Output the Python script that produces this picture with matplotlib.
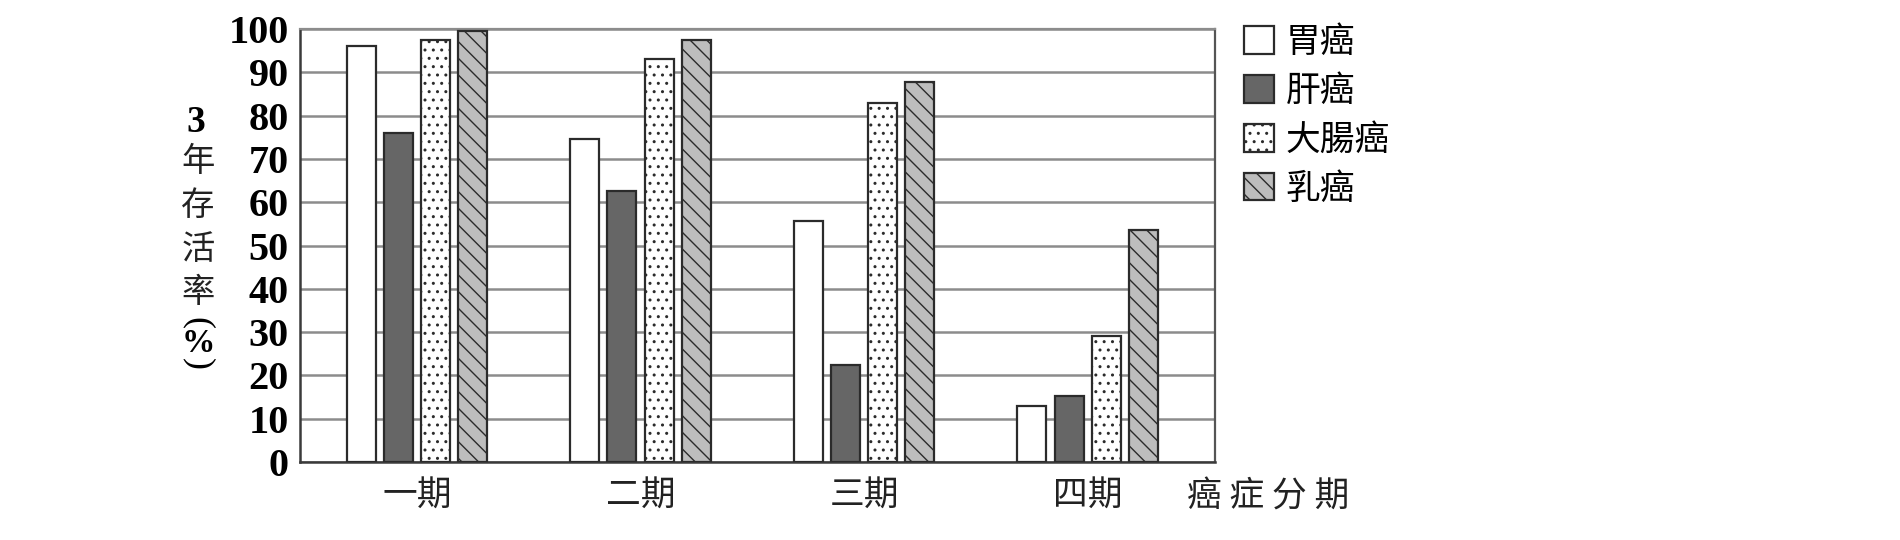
import numpy as np
import matplotlib
matplotlib.use("Agg")
import matplotlib.pyplot as plt

plt.rcParams['font.family'] = ['Noto Sans CJK SC', 'DejaVu Sans']
plt.rcParams['hatch.linewidth'] = 1.0

# data
stages = ['一期', '二期', '三期', '四期']
cancers = ['胃癌', '肝癌', '大腸癌', '乳癌']
stomach = [96, 74.5, 55.7, 13]
liver = [76, 62.5, 22.3, 15.3]
colon = [97.5, 93, 83, 29]
breast = [99.5, 97.5, 87.8, 53.5]
series = [stomach, liver, colon, breast]

faces = ['white', '#666666', 'white', '#bdbdbd']
hatches = [None, None, '..', '\\\\']

fig = plt.figure(figsize=(19, 5.4), dpi=100)
ax = fig.add_axes([0.1579, 0.1444, 0.4816, 0.8019])

x = np.arange(len(stages))
step = 0.166
width = 0.13
bars = []
for i, vals in enumerate(series):
    b = ax.bar(x + (i - 1.5) * step, vals, width, color=faces[i],
               edgecolor='#2b2b2b', linewidth=1.6, hatch=hatches[i],
               label=cancers[i], zorder=3)
    bars.append(b)

ax.set_xlim(-0.523, 3.57)
ax.set_ylim(0, 100)
ax.set_yticks(range(0, 101, 10))
ax.set_yticklabels([str(v) for v in range(0, 101, 10)],
                   family='Liberation Serif', fontweight='bold', fontsize=29)
ax.set_xticks(x)
ax.set_xticklabels(stages, fontsize=25, color='#222222')
ax.tick_params(axis='both', length=0)
ax.tick_params(axis='y', pad=8)
ax.tick_params(axis='x', pad=12)

ax.yaxis.grid(True, color='#8c8c8c', linewidth=1.8)
ax.set_axisbelow(True)
for s in ['left', 'bottom']:
    ax.spines[s].set_color('#3a3a3a')
    ax.spines[s].set_linewidth(1.8)
ax.spines['right'].set_color('#555555')
ax.spines['right'].set_linewidth(1.6)
ax.spines['top'].set_color('#8c8c8c')
ax.spines['top'].set_linewidth(1.6)

# vertical y label
fig.text(196 / 1900, 1 - 123 / 540, '3', family='Liberation Serif',
         fontweight='bold', fontsize=27, ha='center', va='center')
for k, ch in enumerate('年存活率'):
    fig.text(198 / 1900, 1 - (162 + 43.5 * k) / 540, ch, fontsize=24,
             ha='center', va='center', color='#222222')
fig.text(198 / 1900, 1 - 323 / 540, '(', family='Liberation Serif',
         fontsize=26, rotation=-90, ha='center', va='center')
fig.text(198 / 1900, 1 - 343 / 540, '%', family='Liberation Serif',
         fontweight='bold', fontsize=24, ha='center', va='center')
fig.text(198 / 1900, 1 - 364 / 540, ')', family='Liberation Serif',
         fontsize=26, rotation=-90, ha='center', va='center')

fig.text(1268 / 1900, 1 - 497 / 540, '癌 症 分 期', fontsize=25,
         ha='center', va='center', color='#222222')

ax.legend(handles=bars, loc='upper left', bbox_to_anchor=(1244 / 1900, 1 - 25 / 540),
          bbox_transform=fig.transFigure, frameon=False, fontsize=25,
          handlelength=0.85, handleheight=0.85, handletextpad=0.35,
          labelspacing=0.4, borderpad=0, borderaxespad=0)

fig.savefig('out.png', dpi=100, facecolor='white')
